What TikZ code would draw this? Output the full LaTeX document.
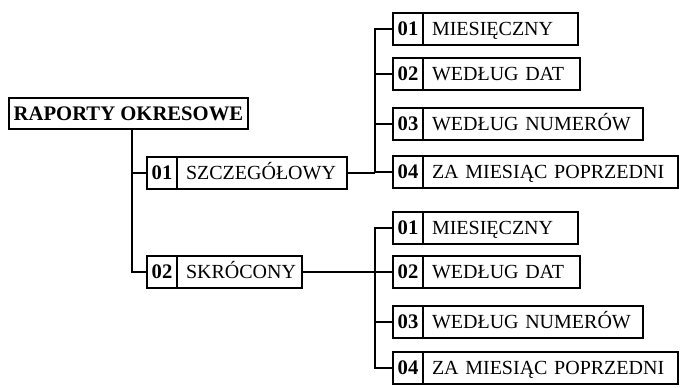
\documentclass[tikz,border=0pt]{standalone}
\usepackage{fontspec}
\setmainfont{Liberation Serif}
\usetikzlibrary{positioning, calc}

\begin{document}
\begin{tikzpicture}[
  x=0.75pt, y=-0.75pt,
  font=\fontsize{15}{18}\selectfont,
  numbox/.style={
    rectangle, draw, line width=1.5pt, anchor=west, outer sep=0pt,
    minimum width=22.5pt, minimum height=24pt, inner sep=0pt,
    text height=10pt, text depth=0pt,
    font=\fontsize{15.5}{18}\selectfont\bfseries,
  },
  labbox/.style={
    rectangle, draw, line width=1.5pt, anchor=west, outer sep=0pt,
    minimum height=24pt, inner xsep=6.75pt, inner ysep=0pt,
    text height=10pt, text depth=0pt,
    text width=#1, align=left,
  },
  rootbox/.style={
    rectangle, draw, line width=1.5pt, outer sep=0pt,
    minimum width=179.25pt, minimum height=23.25pt, inner sep=0pt,
    text height=10pt, text depth=0pt,
    font=\fontsize{15.5}{18}\selectfont\bfseries,
  },
  link/.style={line width=1.5pt},
]
\useasboundingbox (0,0) rectangle (683,388);

% root
\node[rootbox] (root) at (128.5,113.5) {RAPORTY OKRESOWE};
\coordinate (rj) at (132,0);

% level 1
\node[numbox] (s1n) at (147,173) {01};
\node[labbox=114pt] (s1l) at (s1n.east) {SZCZEGÓŁOWY};
\node[numbox] (s2n) at (147,272) {02};
\node[labbox=80.25pt] (s2l) at (s2n.east) {SKRÓCONY};

\draw[link] (rj |- root.south) |- (s1n.west);
\draw[link] (rj |- root.south) |- (s2n.west);

% group 1
\node[numbox] (a1n) at (393,29) {01};
\node[labbox=102.75pt] (a1l) at (a1n.east) {MIESIĘCZNY};
\node[numbox] (a2n) at (393,74) {02};
\node[labbox=104.25pt] (a2l) at (a2n.east) {WEDŁUG DAT};
\node[numbox] (a3n) at (393,124) {03};
\node[labbox=151.5pt] (a3l) at (a3n.east) {WEDŁUG NUMERÓW};
\node[numbox] (a4n) at (393,172) {04};
\node[labbox=177.75pt] (a4l) at (a4n.east) {ZA MIESIĄC POPRZEDNI};

\coordinate (j1) at (375,173);
\draw[link] (s1l.east) -- (j1);
\foreach \k in {1,...,4}
  \draw[link] (j1) |- (a\k n.west);

% group 2
\node[numbox] (b1n) at (393,228) {01};
\node[labbox=102.75pt] (b1l) at (b1n.east) {MIESIĘCZNY};
\node[numbox] (b2n) at (393,272) {02};
\node[labbox=104.25pt] (b2l) at (b2n.east) {WEDŁUG DAT};
\node[numbox] (b3n) at (393,322) {03};
\node[labbox=151.5pt] (b3l) at (b3n.east) {WEDŁUG NUMERÓW};
\node[numbox] (b4n) at (393,368) {04};
\node[labbox=177.75pt] (b4l) at (b4n.east) {ZA MIESIĄC POPRZEDNI};

\coordinate (j2) at (375,272);
\draw[link] (s2l.east) -- (j2);
\foreach \k in {1,...,4}
  \draw[link] (j2) |- (b\k n.west);

\end{tikzpicture}
\end{document}
